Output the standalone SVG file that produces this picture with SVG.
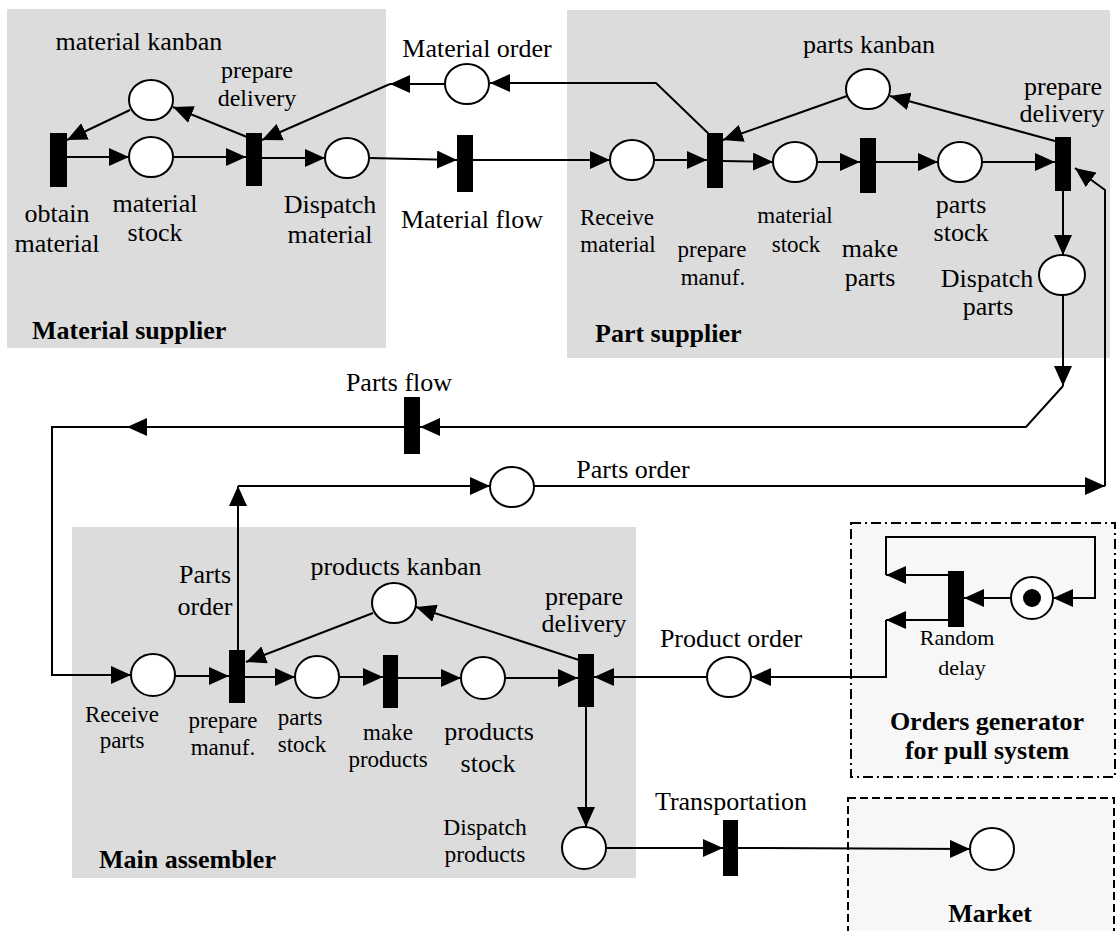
<svg xmlns="http://www.w3.org/2000/svg" width="1117" height="931" viewBox="0 0 1117 931">
  <defs>
    <marker id="arrow" viewBox="0 0 20 18" refX="20" refY="9" markerWidth="20" markerHeight="18" markerUnits="userSpaceOnUse" orient="auto">
      <path d="M0,0 L20,9 L0,18 z" fill="#000"/>
    </marker>
    <style>
      text { font-family: "Liberation Serif", "Times New Roman", serif; font-size: 26px; fill: #000; }
      .sm { font-size: 23px; }
      .xs { font-size: 22px; }
      .c { text-anchor: middle; }
      .b { font-weight: bold; }
      .area { fill: #dcdcdc; stroke: none; }
      .ext { fill: #f7f7f7; stroke: #000; stroke-width: 2; }
      .place { fill: #fff; stroke: #000; stroke-width: 2; }
      .trans { fill: #000; stroke: none; }
      .arc { fill: none; stroke: #000; stroke-width: 2; }
      .arc.to { marker-end: url(#arrow); }
    </style>
  </defs>

  <!-- Subsystem areas -->
  <g id="areas">
    <rect id="material-supplier" class="area" x="7" y="9" width="379" height="339"/>
    <rect id="part-supplier" class="area" x="567" y="10" width="543" height="348"/>
    <rect id="main-assembler" class="area" x="72" y="527" width="564" height="351"/>
    <rect id="orders-generator" class="ext" x="851" y="523" width="264" height="254" stroke-dasharray="10 4 2 4"/>
    <rect id="market" class="ext" x="848" y="798" width="266" height="150" stroke-dasharray="8 4"/>
  </g>

  <!-- Arcs -->
  <g id="connectors">
    <!-- material supplier -->
    <path class="arc to" d="M130,110 L67,140"/>
    <path class="arc to" d="M67,157 L129,157"/>
    <path class="arc to" d="M173,157 L246,157"/>
    <path class="arc to" d="M247,137 L173,107"/>
    <path class="arc to" d="M262,158 L325,158"/>
    <path class="arc to" d="M369,158 L457,160"/>
    <path class="arc to" d="M445,84 L390,84"/>
    <path class="arc to" d="M390,84 L262,140"/>
    <!-- part supplier -->
    <path class="arc to" d="M473,160 L610,160"/>
    <path class="arc to" d="M654,160 L707,160"/>
    <path class="arc to" d="M712,137 L656,83 L490,83"/>
    <path class="arc to" d="M723,161 L773,162"/>
    <path class="arc to" d="M817,162 L860,162"/>
    <path class="arc to" d="M876,162 L938,162"/>
    <path class="arc to" d="M982,162 L1055,162"/>
    <path class="arc to" d="M1055,141 L890,96"/>
    <path class="arc to" d="M847,96 L723,140"/>
    <path class="arc to" d="M1063,191 L1063,255"/>
    <path class="arc to" d="M1063,295 L1063,386"/>
    <path class="arc to" d="M1063,386 L1026,427 L420,427"/>
    <!-- parts flow -->
    <path class="arc to" d="M404,427 L127,427"/>
    <path class="arc to" d="M127,427 L52,427 L52,675 L131,675"/>
    <!-- parts order -->
    <path class="arc to" d="M238,650 L238,486"/>
    <path class="arc to" d="M238,486 L490,486"/>
    <path class="arc to" d="M534,486 L1105,486"/>
    <path class="arc to" d="M1105,486 L1105,190 L1075,168"/>
    <!-- main assembler -->
    <path class="arc to" d="M175,676 L229,676"/>
    <path class="arc to" d="M245,677 L295,677"/>
    <path class="arc to" d="M339,677 L383,677"/>
    <path class="arc to" d="M398,678 L461,678"/>
    <path class="arc to" d="M505,678 L578,678"/>
    <path class="arc to" d="M579,660 L416,607"/>
    <path class="arc to" d="M373,613 L246,662"/>
    <path class="arc to" d="M586,707 L586,827"/>
    <!-- orders generator -->
    <path class="arc to" d="M707,677 L594,677"/>
    <path class="arc to" d="M948,575 L886,575"/>
    <path class="arc to" d="M886,575 L886,537 L1095,537 L1095,598 L1053,598"/>
    <path class="arc to" d="M1011,598 L964,598"/>
    <path class="arc to" d="M948,620 L886,620"/>
    <path class="arc to" d="M886,620 L886,677 L751,677"/>
    <!-- transportation -->
    <path class="arc to" d="M606,848 L723,848"/>
    <path class="arc to" d="M738,848 L970,849"/>
  </g>

  <!-- Material supplier -->
  <g id="material-kanban"><ellipse class="place" cx="151" cy="100" rx="22" ry="20"/><text class="c" x="139" y="50">material kanban</text></g>
  <g id="obtain-material"><rect class="trans" x="50" y="133" width="17" height="54"/><text class="c" x="57" y="222">obtain</text><text class="c" x="57" y="252">material</text></g>
  <g id="material-stock-ms"><ellipse class="place" cx="151" cy="157" rx="22" ry="20"/><text class="c" x="155" y="212">material</text><text class="c" x="155" y="241">stock</text></g>
  <g id="prepare-delivery-ms"><rect class="trans" x="246" y="133" width="16" height="53"/><text class="c" x="257" y="78" style="font-size:24px">prepare</text><text class="c" x="257" y="106" style="font-size:24px">delivery</text></g>
  <g id="dispatch-material"><ellipse class="place" cx="347" cy="158" rx="22" ry="20"/><text class="c" x="330" y="213">Dispatch</text><text class="c" x="330" y="243">material</text></g>
  <text class="b" x="32" y="339">Material supplier</text>

  <!-- Links between suppliers -->
  <g id="material-order"><ellipse class="place" cx="467" cy="84" rx="22" ry="20"/><text class="c" x="477" y="57">Material order</text></g>
  <g id="material-flow"><rect class="trans" x="457" y="135" width="16" height="57"/><text class="c" x="472" y="228">Material flow</text></g>

  <!-- Part supplier -->
  <g id="receive-material"><ellipse class="place" cx="632" cy="160" rx="22" ry="20"/><text class="c sm" x="617" y="225">Receive</text><text class="c sm" x="618" y="252">material</text></g>
  <g id="prepare-manuf-ps"><rect class="trans" x="707" y="133" width="16" height="55"/><text class="c sm" x="712" y="257">prepare</text><text class="c sm" x="713" y="285">manuf.</text></g>
  <g id="parts-kanban"><ellipse class="place" cx="868" cy="89" rx="22" ry="20"/><text class="c" x="869" y="53">parts kanban</text></g>
  <g id="material-stock-ps"><ellipse class="place" cx="795" cy="162" rx="22" ry="20"/><text class="c sm" x="795" y="223">material</text><text class="c sm" x="796" y="252">stock</text></g>
  <g id="make-parts"><rect class="trans" x="860" y="138" width="16" height="55"/><text class="c" x="870" y="257">make</text><text class="c" x="870" y="286">parts</text></g>
  <g id="parts-stock"><ellipse class="place" cx="960" cy="162" rx="22" ry="20"/><text class="c" x="961" y="213">parts</text><text class="c" x="961" y="241">stock</text></g>
  <g id="prepare-delivery-ps"><rect class="trans" x="1055" y="137" width="16" height="54"/><text class="c" x="1063" y="95">prepare</text><text class="c" x="1062" y="122">delivery</text></g>
  <g id="dispatch-parts"><ellipse class="place" cx="1062" cy="275" rx="23" ry="20"/><text class="c" x="987" y="287">Dispatch</text><text class="c" x="988" y="315">parts</text></g>
  <text class="b" x="595" y="342">Part supplier</text>

  <!-- Flows to main assembler -->
  <g id="parts-flow"><rect class="trans" x="404" y="397" width="16" height="57"/><text class="c" x="399" y="391">Parts flow</text></g>
  <g id="parts-order"><ellipse class="place" cx="512" cy="487" rx="22" ry="20"/><text class="c" x="633" y="478">Parts order</text></g>

  <!-- Main assembler -->
  <g id="receive-parts"><ellipse class="place" cx="153" cy="675" rx="22" ry="21"/><text class="c sm" x="122" y="722">Receive</text><text class="c sm" x="122" y="748">parts</text></g>
  <g id="prepare-manuf-ma"><rect class="trans" x="229" y="650" width="16" height="53"/><text class="c sm" x="223" y="728">prepare</text><text class="c sm" x="223" y="755">manuf.</text><text class="c" x="205" y="583">Parts</text><text class="c" x="205" y="615">order</text></g>
  <g id="products-kanban"><ellipse class="place" cx="394" cy="603" rx="22" ry="20"/><text class="c" x="396" y="575">products kanban</text></g>
  <g id="parts-stock-ma"><ellipse class="place" cx="317" cy="677" rx="22" ry="21"/><text class="c sm" x="300" y="725">parts</text><text class="c sm" x="302" y="752">stock</text></g>
  <g id="make-products"><rect class="trans" x="383" y="655" width="15" height="53"/><text class="c sm" x="388" y="740">make</text><text class="c sm" x="388" y="767">products</text></g>
  <g id="products-stock"><ellipse class="place" cx="483" cy="678" rx="22" ry="21"/><text class="c" x="489" y="740">products</text><text class="c" x="488" y="772">stock</text></g>
  <g id="prepare-delivery-ma"><rect class="trans" x="578" y="654" width="16" height="53"/><text class="c" x="584" y="605">prepare</text><text class="c" x="584" y="632">delivery</text></g>
  <g id="dispatch-products"><ellipse class="place" cx="584" cy="848" rx="22" ry="21"/><text class="c" x="485" y="835" style="font-size:23.5px">Dispatch</text><text class="c" x="485" y="862" style="font-size:23.5px">products</text></g>
  <text class="b" x="99" y="868">Main assembler</text>

  <!-- Orders generator for pull system -->
  <g id="product-order"><ellipse class="place" cx="729" cy="677" rx="22" ry="20"/><text class="c" x="731" y="647">Product order</text></g>
  <g id="random-delay"><rect class="trans" x="948" y="571" width="16" height="56"/><text class="c xs" x="957" y="645">Random</text><text class="c xs" x="962" y="675">delay</text></g>
  <g id="generator-token"><ellipse class="place" cx="1032" cy="598" rx="21" ry="21"/><circle cx="1032" cy="598" r="9" fill="#000"/></g>
  <text class="c b" x="987" y="730">Orders generator</text>
  <text class="c b" x="987" y="759">for pull system</text>

  <!-- Transportation and market -->
  <g id="transportation"><rect class="trans" x="723" y="820" width="15" height="56"/><text class="c" x="731" y="810">Transportation</text></g>
  <g id="market-place"><ellipse class="place" cx="992" cy="849" rx="22" ry="21"/></g>
  <text class="c b" x="990" y="922">Market</text>
</svg>
